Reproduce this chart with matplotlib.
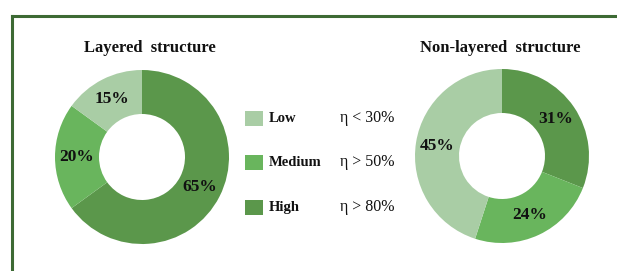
import matplotlib.pyplot as plt
from matplotlib.lines import Line2D
from matplotlib.patches import Rectangle

W, H = 617, 271

# data, clockwise from 12 o'clock: High, Medium, Low
levels = ["High", "Medium", "Low"]
layered = [65, 20, 15]
non_layered = [31, 24, 45]
colors = ["#5b974b", "#69b55d", "#a9cda5"]

legend_names = ["Low", "Medium", "High"]
legend_ranges = ["\u03b7 < 30%", "\u03b7 > 50%", "\u03b7 > 80%"]
legend_colors = ["#a9cda5", "#69b55d", "#5b974b"]

plt.rcParams["font.family"] = ["Liberation Serif", "DejaVu Serif"]

fig = plt.figure(figsize=(W / 100, H / 100), dpi=100)
ax = fig.add_axes([0, 0, 1, 1])
ax.set_xlim(0, W)
ax.set_ylim(0, H)
ax.set_aspect("equal")
ax.axis("off")


def py(y):
    # pixel row from the top -> data y
    return H - y


def donut(values, cx, cy, title, tx):
    ax.pie(values, colors=colors, center=(cx, py(cy)), radius=87,
           startangle=90, counterclock=False,
           wedgeprops=dict(width=44, linewidth=0),
           autopct="%.0f%%", pctdistance=0.75,
           textprops=dict(fontsize=12.5, fontweight="bold", color="#111111"))
    ax.text(tx, py(48), title, ha="center", va="center",
            fontsize=12, fontweight="bold", color="#111111")


donut(layered, 142, 157, "Layered  structure", 150)
donut(non_layered, 502, 156, "Non-layered  structure", 500)
ax.set_xlim(0, W)
ax.set_ylim(0, H)

# legend
rows = [118.5, 162.5, 207]
for name, rng, col, y in zip(legend_names, legend_ranges, legend_colors, rows):
    ax.add_patch(Rectangle((245, py(y) - 7.5), 18, 15, color=col, lw=0))
    ax.text(269, py(y), name, ha="left", va="center",
            fontsize=10.5, fontweight="bold", color="#111111")
    ax.text(340, py(y), rng, ha="left", va="center",
            fontsize=11.5, color="#111111")

# frame (top and left edges)
border = "#3d6a34"
fig.add_artist(Line2D([12 / W, 1], [1 - 16 / H, 1 - 16 / H], color=border, lw=2.2,
                      transform=fig.transFigure))
fig.add_artist(Line2D([12 / W, 12 / W], [0, 1 - 16 / H], color=border, lw=2.2,
                      transform=fig.transFigure))

fig.savefig("out.png", dpi=100)
